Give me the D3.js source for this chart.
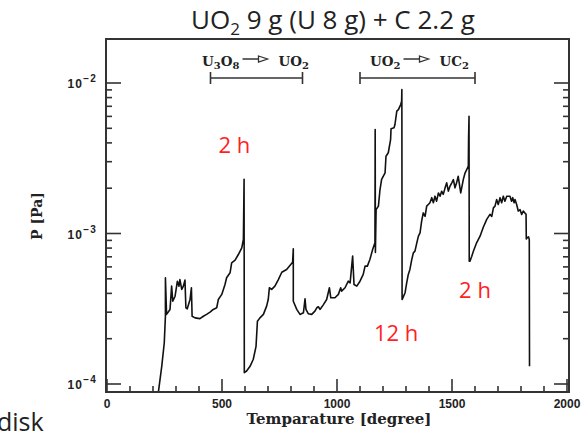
<!DOCTYPE html>
<html><head><meta charset="utf-8">
<script src="https://cdn.jsdelivr.net/npm/d3@7/dist/d3.min.js"></script>
<style>body{margin:0;background:#fff;}svg{display:block;}</style>
</head><body>
<svg id="chart" width="588" height="434"></svg>
<script>
// ---- data ----
const temps = [222,238,249,254,254,259,274,281,286,296,306,313,317,325,332,339,343,349,361,367,370,383,404,419,433,448,462,477,484,499,513,520,535,542,557,571,586,593,596,597,607,622,636,648,654,665,680,694,701,706,716,730,745,760,781,807,810,810,825,839,854,861,865,875,890,904,912,919,926,941,955,967,973,991,1006,1016,1020,1035,1049,1057,1068,1074,1086,1100,1114,1122,1132,1143,1155,1165,1166,1167,1170,1180,1187,1194,1209,1213,1223,1233,1235,1248,1252,1260,1267,1277,1281,1282,1283,1296,1303,1310,1317,1325,1332,1339,1347,1354,1361,1368,1375,1383,1390,1397,1404,1412,1419,1426,1433,1441,1448,1455,1462,1470,1477,1484,1491,1499,1506,1513,1520,1527,1538,1549,1557,1564,1571,1572,1574,1575,1578,1586,1593,1607,1622,1636,1651,1665,1673,1680,1687,1694,1701,1709,1716,1723,1730,1738,1752,1759,1764,1770,1774,1781,1788,1796,1803,1810,1817,1822,1823,1828,1833,1836,1837];
const pressures = [8.5e-5,1.31e-4,1.88e-4,2.82e-4,5.08e-4,2.90e-4,3.13e-4,4.47e-4,3.55e-4,3.83e-4,4.82e-4,4.47e-4,4.94e-4,4.25e-4,4.47e-4,4.90e-4,3.21e-4,3.16e-4,3.64e-4,4.36e-4,2.82e-4,2.75e-4,2.72e-4,2.82e-4,2.90e-4,3.00e-4,3.13e-4,3.21e-4,3.64e-4,3.94e-4,4.58e-4,5.08e-4,5.48e-4,6.39e-4,6.65e-4,7.25e-4,8.03e-4,9.13e-4,2.29e-3,1.19e-4,1.22e-4,1.31e-4,1.46e-4,1.78e-4,2.61e-4,2.75e-4,2.90e-4,3.29e-4,3.64e-4,4.36e-4,4.25e-4,4.47e-4,4.94e-4,5.53e-4,5.77e-4,6.44e-4,7.91e-4,3.55e-4,3.13e-4,2.90e-4,2.97e-4,3.68e-4,3.13e-4,2.93e-4,2.90e-4,3.05e-4,3.21e-4,3.26e-4,3.13e-4,3.37e-4,3.64e-4,4.36e-4,3.74e-4,3.74e-4,3.94e-4,4.36e-4,4.14e-4,4.36e-4,4.82e-4,4.70e-4,7.07e-4,4.58e-4,4.47e-4,4.82e-4,5.35e-4,6.07e-4,6.07e-4,6.71e-4,7.83e-4,8.67e-4,4.91e-3,7.48e-4,1.44e-3,1.52e-3,1.96e-3,2.29e-3,2.53e-3,3.26e-3,3.44e-3,4.21e-3,4.97e-3,5.04e-3,5.30e-3,6.50e-3,6.66e-3,7.19e-3,7.57e-3,9.05e-3,3.64e-4,4.04e-4,4.70e-4,5.35e-4,5.77e-4,6.71e-4,7.44e-4,7.63e-4,8.67e-4,9.60e-4,1.01e-3,1.21e-3,1.37e-3,1.30e-3,1.52e-3,1.56e-3,1.60e-3,1.73e-3,1.60e-3,1.77e-3,1.64e-3,1.86e-3,1.77e-3,1.91e-3,1.82e-3,2.01e-3,2.17e-3,1.91e-3,2.06e-3,2.17e-3,2.28e-3,2.01e-3,2.17e-3,2.40e-3,1.86e-3,2.28e-3,2.53e-3,2.66e-3,2.80e-3,4.21e-3,6.01e-3,6.55e-4,6.55e-4,7.07e-4,7.63e-4,8.67e-4,9.60e-4,1.10e-3,1.24e-3,1.34e-3,1.30e-3,1.48e-3,1.52e-3,1.68e-3,1.56e-3,1.73e-3,1.60e-3,1.77e-3,1.64e-3,1.77e-3,1.77e-3,1.64e-3,1.73e-3,1.60e-3,1.68e-3,1.56e-3,1.41e-3,1.44e-3,1.34e-3,1.41e-3,1.37e-3,1.34e-3,9.2e-4,9.4e-4,9.5e-4,9.1e-4,1.31e-4];
const xTickValues = [0,500,1000,1500,2000];
const xMinorStep = 100;
const yDecades = [1e-4,1e-3,1e-2];
const yDecadeExponents = ["\u22124","\u22123","\u22122"];
const reactionRanges = [[450,850],[1100,1600]];
const reactionFrom = [["U","3","O","8"],["UO","2"]];
const reactionTo = [["UO","2"],["UC","2"]];
const holdLabels = ["2 h","12 h","2 h"];
const holdTemps = [554,1257,1600];
const holdPressures = [3.45e-3,1.92e-4,3.7e-4];
const titleParts = ["UO","2"," 9 g (U 8 g) + C 2.2 g"];
const xLabel = "Temparature [degree]";
const yLabel = "P [Pa]";

// ---- layout ----
const svg = d3.select("#chart");
const frame = {l:106, r:569, t:39, b:392};
const x = d3.scaleLinear().domain([0,2000]).range([107,567]);
const y = d3.scaleLog().domain([1e-4,1e-2]).range([384,83]);
const serif = "'DejaVu Serif', serif";
const sans = "'Liberation Sans', Arial, sans-serif";

svg.append("defs").append("clipPath").attr("id","clip")
  .append("rect").attr("x",frame.l).attr("y",frame.t).attr("width",frame.r-frame.l).attr("height",frame.b-frame.t);

// data line
const pts = temps.map((t,i)=>[t,pressures[i]]);
svg.append("path").datum(pts)
  .attr("clip-path","url(#clip)")
  .attr("fill","none").attr("stroke","#111").attr("stroke-width",1.6).attr("stroke-linejoin","round")
  .attr("d", d3.line().x(d=>x(d[0])).y(d=>y(d[1])));

// frame
svg.append("rect").attr("x",frame.l).attr("y",frame.t).attr("width",frame.r-frame.l).attr("height",frame.b-frame.t)
  .attr("fill","none").attr("stroke","#333").attr("stroke-width",2);

// x ticks (bottom, inward)
const xMinor = d3.range(0,2001,xMinorStep);
svg.append("g").selectAll("line").data(xMinor).join("line")
  .attr("x1",d=>x(d)).attr("x2",d=>x(d))
  .attr("y1",frame.b).attr("y2",d=>frame.b-(xTickValues.includes(d)?13:6))
  .attr("stroke","#333").attr("stroke-width",1.6);
svg.append("g").selectAll("text").data(xTickValues).join("text")
  .attr("x",d=>x(d)).attr("y",408).attr("text-anchor","middle")
  .attr("font-family",sans).attr("font-weight","bold").attr("font-size",12).attr("fill","#222")
  .text(d=>d);

// y ticks (left and right, inward)
const yT = y.ticks().filter(v=>v>=1e-4*0.999 && v<=1e-2*1.001);
const isMajor = v => Math.abs(Math.log10(v)-Math.round(Math.log10(v)))<1e-6;
const gy = svg.append("g");
gy.selectAll("line.l").data(yT).join("line").attr("class","l")
  .attr("x1",frame.l).attr("x2",d=>frame.l+(isMajor(d)?15:6))
  .attr("y1",d=>y(d)).attr("y2",d=>y(d)).attr("stroke","#333").attr("stroke-width",1.6);
gy.selectAll("line.r").data(yT).join("line").attr("class","r")
  .attr("x1",frame.r).attr("x2",d=>frame.r-(isMajor(d)?15:6))
  .attr("y1",d=>y(d)).attr("y2",d=>y(d)).attr("stroke","#333").attr("stroke-width",1.6);
const yl = svg.append("g").selectAll("text").data(yDecades).join("text")
  .attr("x",97).attr("y",d=>y(d)+5).attr("text-anchor","end")
  .attr("font-family",sans).attr("font-weight","bold").attr("font-size",12).attr("fill","#222")
  .attr("letter-spacing",1.2);
yl.append("tspan").text("10");
yl.append("tspan").attr("dy",-6).attr("font-size",10).text((d,i)=>yDecadeExponents[i]);

// axis labels
svg.append("text").attr("x",339).attr("y",424).attr("text-anchor","middle")
  .attr("font-family",serif).attr("font-weight","bold").attr("font-size",15).attr("fill","#222").text(xLabel);
svg.append("text").attr("transform","translate(42,216) rotate(-90)").attr("text-anchor","middle")
  .attr("font-family",serif).attr("font-weight","bold").attr("font-size",14).attr("fill","#222").text(yLabel);

// title
const title = svg.append("text").attr("x",333).attr("y",29).attr("text-anchor","middle")
  .attr("font-family","'Open Sans', sans-serif").attr("font-size",26).attr("fill","#222");
title.append("tspan").text(titleParts[0]);
title.append("tspan").attr("dy",6).attr("font-size",17).text(titleParts[1]);
title.append("tspan").attr("dy",-6).text(titleParts[2]);

// reaction brackets
function chem(g, parts, xpos, anchor){
  const t = g.append("text").attr("x",xpos).attr("y",66).attr("text-anchor",anchor)
    .attr("font-family",serif).attr("font-weight","bold").attr("font-size",13.5).attr("fill","#222");
  parts.forEach((p,i)=>{
    const sp = t.append("tspan").text(p);
    if(i%2===1){ sp.attr("font-size",10).attr("dy",3); } else if(i>0){ sp.attr("dy",-3); }
  });
  return t;
}
reactionRanges.forEach((r,i)=>{
  const g = svg.append("g");
  const x0 = x(r[0]), x1 = x(r[1]), yb = 78;
  g.append("line").attr("x1",x0).attr("x2",x1).attr("y1",yb).attr("y2",yb).attr("stroke","#333").attr("stroke-width",1.6);
  g.append("line").attr("x1",x0).attr("x2",x0).attr("y1",yb-6).attr("y2",yb+6).attr("stroke","#333").attr("stroke-width",1.6);
  g.append("line").attr("x1",x1).attr("x2",x1).attr("y1",yb-6).attr("y2",yb+6).attr("stroke","#333").attr("stroke-width",1.6);
  const mid = (x0+x1)/2;
  chem(g, reactionFrom[i], mid-17, "end");
  chem(g, reactionTo[i], mid+22, "start");
  const ay = 59;
  g.append("line").attr("x1",mid-14).attr("x2",mid+3).attr("y1",ay).attr("y2",ay).attr("stroke","#333").attr("stroke-width",1.5);
  g.append("path").attr("d",`M${mid+2},${ay-3}L${mid+11},${ay}L${mid+2},${ay+3}Z`)
    .attr("fill","#fff").attr("stroke","#333").attr("stroke-width",1.3);
});

// hold-time annotations
svg.append("g").selectAll("text").data(holdLabels).join("text")
  .attr("x",(d,i)=>x(holdTemps[i])).attr("y",(d,i)=>y(holdPressures[i])).attr("text-anchor","middle")
  .attr("font-family","'Open Sans', sans-serif").attr("font-size",22).attr("fill","#ff1f1f")
  .text(d=>d);

// stray caption fragment
svg.append("text").attr("x",-3).attr("y",431)
  .attr("font-family","'Open Sans', sans-serif").attr("font-size",25).attr("fill","#222").text("disk");
</script>
</body></html>
